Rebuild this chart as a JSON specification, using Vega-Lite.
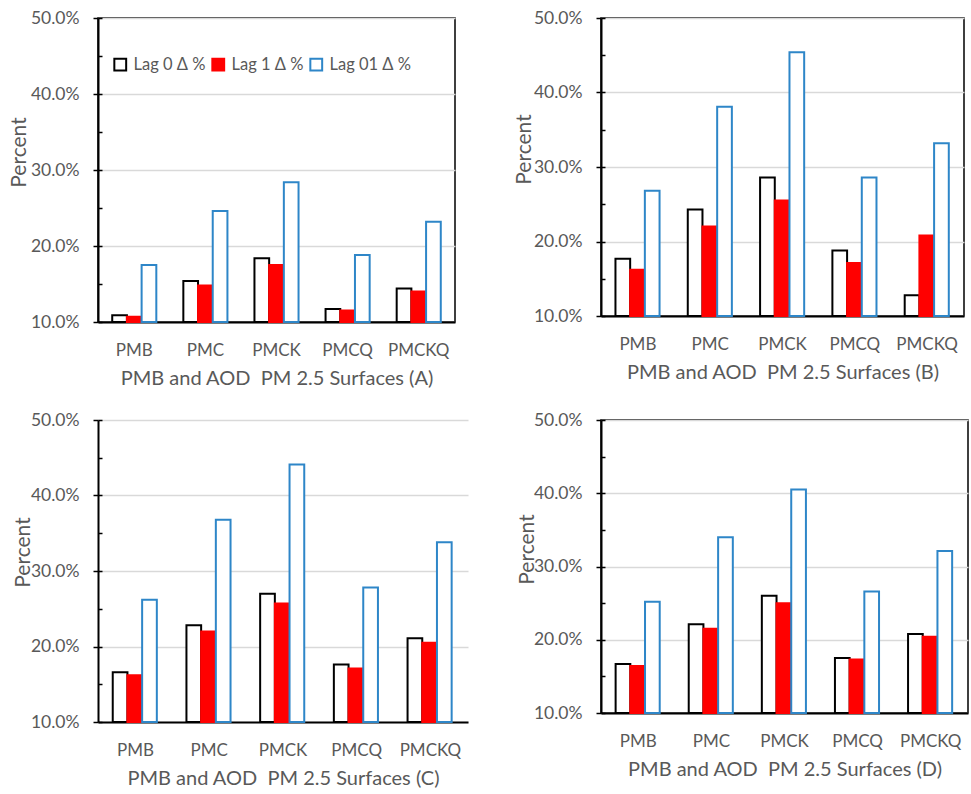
{
  "$schema": "https://vega.github.io/schema/vega-lite/v6.json",
  "background": "white",
  "padding": {"left": 7, "top": 8, "right": 1, "bottom": 2},
  "config": {
    "font": "Lato",
    "axis": {"labelColor": "#595959", "titleColor": "#595959", "titleFontWeight": "normal", "labelFontSize": 17, "titleFontSize": 20},
    "axisY": {"titleFontSize": 21, "labelFontSize": 17.5},
    "legend": {"labelColor": "#595959"}
  },
  "data": {"values": [
    {"panel": "A", "category": "PMB", "series": "Lag 0 Δ %", "value": 0.109},
    {"panel": "A", "category": "PMB", "series": "Lag 1 Δ %", "value": 0.107},
    {"panel": "A", "category": "PMB", "series": "Lag 01 Δ %", "value": 0.175},
    {"panel": "A", "category": "PMC", "series": "Lag 0 Δ %", "value": 0.154},
    {"panel": "A", "category": "PMC", "series": "Lag 1 Δ %", "value": 0.148},
    {"panel": "A", "category": "PMC", "series": "Lag 01 Δ %", "value": 0.246},
    {"panel": "A", "category": "PMCK", "series": "Lag 0 Δ %", "value": 0.184},
    {"panel": "A", "category": "PMCK", "series": "Lag 1 Δ %", "value": 0.175},
    {"panel": "A", "category": "PMCK", "series": "Lag 01 Δ %", "value": 0.284},
    {"panel": "A", "category": "PMCQ", "series": "Lag 0 Δ %", "value": 0.117},
    {"panel": "A", "category": "PMCQ", "series": "Lag 1 Δ %", "value": 0.115},
    {"panel": "A", "category": "PMCQ", "series": "Lag 01 Δ %", "value": 0.188},
    {"panel": "A", "category": "PMCKQ", "series": "Lag 0 Δ %", "value": 0.144},
    {"panel": "A", "category": "PMCKQ", "series": "Lag 1 Δ %", "value": 0.140},
    {"panel": "A", "category": "PMCKQ", "series": "Lag 01 Δ %", "value": 0.232},
    {"panel": "B", "category": "PMB", "series": "Lag 0 Δ %", "value": 0.177},
    {"panel": "B", "category": "PMB", "series": "Lag 1 Δ %", "value": 0.162},
    {"panel": "B", "category": "PMB", "series": "Lag 01 Δ %", "value": 0.268},
    {"panel": "B", "category": "PMC", "series": "Lag 0 Δ %", "value": 0.243},
    {"panel": "B", "category": "PMC", "series": "Lag 1 Δ %", "value": 0.220},
    {"panel": "B", "category": "PMC", "series": "Lag 01 Δ %", "value": 0.381},
    {"panel": "B", "category": "PMCK", "series": "Lag 0 Δ %", "value": 0.286},
    {"panel": "B", "category": "PMCK", "series": "Lag 1 Δ %", "value": 0.255},
    {"panel": "B", "category": "PMCK", "series": "Lag 01 Δ %", "value": 0.454},
    {"panel": "B", "category": "PMCQ", "series": "Lag 0 Δ %", "value": 0.188},
    {"panel": "B", "category": "PMCQ", "series": "Lag 1 Δ %", "value": 0.171},
    {"panel": "B", "category": "PMCQ", "series": "Lag 01 Δ %", "value": 0.286},
    {"panel": "B", "category": "PMCKQ", "series": "Lag 0 Δ %", "value": 0.128},
    {"panel": "B", "category": "PMCKQ", "series": "Lag 1 Δ %", "value": 0.208},
    {"panel": "B", "category": "PMCKQ", "series": "Lag 01 Δ %", "value": 0.332},
    {"panel": "C", "category": "PMB", "series": "Lag 0 Δ %", "value": 0.166},
    {"panel": "C", "category": "PMB", "series": "Lag 1 Δ %", "value": 0.162},
    {"panel": "C", "category": "PMB", "series": "Lag 01 Δ %", "value": 0.262},
    {"panel": "C", "category": "PMC", "series": "Lag 0 Δ %", "value": 0.228},
    {"panel": "C", "category": "PMC", "series": "Lag 1 Δ %", "value": 0.220},
    {"panel": "C", "category": "PMC", "series": "Lag 01 Δ %", "value": 0.368},
    {"panel": "C", "category": "PMCK", "series": "Lag 0 Δ %", "value": 0.270},
    {"panel": "C", "category": "PMCK", "series": "Lag 1 Δ %", "value": 0.257},
    {"panel": "C", "category": "PMCK", "series": "Lag 01 Δ %", "value": 0.441},
    {"panel": "C", "category": "PMCQ", "series": "Lag 0 Δ %", "value": 0.176},
    {"panel": "C", "category": "PMCQ", "series": "Lag 1 Δ %", "value": 0.171},
    {"panel": "C", "category": "PMCQ", "series": "Lag 01 Δ %", "value": 0.278},
    {"panel": "C", "category": "PMCKQ", "series": "Lag 0 Δ %", "value": 0.211},
    {"panel": "C", "category": "PMCKQ", "series": "Lag 1 Δ %", "value": 0.205},
    {"panel": "C", "category": "PMCKQ", "series": "Lag 01 Δ %", "value": 0.338},
    {"panel": "D", "category": "PMB", "series": "Lag 0 Δ %", "value": 0.167},
    {"panel": "D", "category": "PMB", "series": "Lag 1 Δ %", "value": 0.164},
    {"panel": "D", "category": "PMB", "series": "Lag 01 Δ %", "value": 0.252},
    {"panel": "D", "category": "PMC", "series": "Lag 0 Δ %", "value": 0.221},
    {"panel": "D", "category": "PMC", "series": "Lag 1 Δ %", "value": 0.215},
    {"panel": "D", "category": "PMC", "series": "Lag 01 Δ %", "value": 0.340},
    {"panel": "D", "category": "PMCK", "series": "Lag 0 Δ %", "value": 0.260},
    {"panel": "D", "category": "PMCK", "series": "Lag 1 Δ %", "value": 0.250},
    {"panel": "D", "category": "PMCK", "series": "Lag 01 Δ %", "value": 0.405},
    {"panel": "D", "category": "PMCQ", "series": "Lag 0 Δ %", "value": 0.175},
    {"panel": "D", "category": "PMCQ", "series": "Lag 1 Δ %", "value": 0.173},
    {"panel": "D", "category": "PMCQ", "series": "Lag 01 Δ %", "value": 0.266},
    {"panel": "D", "category": "PMCKQ", "series": "Lag 0 Δ %", "value": 0.208},
    {"panel": "D", "category": "PMCKQ", "series": "Lag 1 Δ %", "value": 0.204},
    {"panel": "D", "category": "PMCKQ", "series": "Lag 01 Δ %", "value": 0.321}
  ]},
  "columns": 2,
  "spacing": {"column": 44, "row": 21},
  "resolve": {"scale": {"fill": "independent", "stroke": "independent"}, "legend": {"fill": "independent", "stroke": "independent"}},
  "concat": [
    {
      "width": 357, "height": 304,
      "view": {"stroke": "black", "strokeWidth": 1.5},
      "transform": [{"filter": "datum.panel == 'A'"}],
      "layer": [
        {
          "mark": {"type": "bar", "strokeWidth": 2},
          "encoding": {
            "x": {"field": "category", "type": "nominal", "sort": ["PMB", "PMC", "PMCK", "PMCQ", "PMCKQ"], "scale": {"paddingInner": 0.38}, "title": "PMB and AOD\u00a0 PM 2.5 Surfaces (A)",
              "axis": {"labelAngle": 0, "ticks": false, "domainColor": "black", "domainWidth": 2, "labelPadding": 20, "titlePadding": 10}},
            "xOffset": {"field": "series", "sort": ["Lag 0 Δ %", "Lag 1 Δ %", "Lag 01 Δ %"]},
            "y": {"field": "value", "type": "quantitative", "scale": {"domain": [0.1, 0.5], "zero": false, "nice": false}, "title": "Percent",
              "axis": {"values": [0.1, 0.2, 0.3, 0.4, 0.5], "format": ".1%", "tickSize": 5, "tickColor": "black", "tickWidth": 1.5, "domainColor": "black", "domainWidth": 2, "labelPadding": 14, "gridColor": "#d9d9d9", "gridWidth": 1.5, "titleX": -79, "titleY": 134, "titleBaseline": "middle"}},
            "y2": {"datum": 0.1},
            "fill": {"field": "series", "sort": ["Lag 0 Δ %", "Lag 1 Δ %", "Lag 01 Δ %"], "scale": {"domain": ["Lag 0 Δ %", "Lag 1 Δ %", "Lag 01 Δ %"], "range": ["#ffffff", "#ff0000", "#ffffff"]},
              "legend": {"title": null, "orient": "none", "legendX": 14, "legendY": 38, "direction": "horizontal", "symbolType": "square", "symbolSize": 140, "symbolStrokeWidth": 2, "labelFontSize": 16.5, "labelOffset": 5, "columnPadding": 2}},
            "stroke": {"field": "series", "sort": ["Lag 0 Δ %", "Lag 1 Δ %", "Lag 01 Δ %"], "scale": {"domain": ["Lag 0 Δ %", "Lag 1 Δ %", "Lag 01 Δ %"], "range": ["#000000", "#ff0000", "#2e86c8"]},
              "legend": {"title": null, "orient": "none", "legendX": 14, "legendY": 38, "direction": "horizontal", "symbolType": "square", "symbolSize": 140, "symbolStrokeWidth": 2, "labelFontSize": 16.5, "labelOffset": 5, "columnPadding": 2}}
          }
        },
        {
          "mark": {"type": "tick", "opacity": 0},
          "encoding": {
            "y": {"field": "value", "type": "quantitative", "scale": {"domain": [0.1, 0.5], "zero": false, "nice": false},
              "axis": {"orient": "left", "values": [0.1, 0.15, 0.2, 0.25, 0.3, 0.35, 0.4, 0.45, 0.5], "labels": false, "domain": false, "grid": false, "title": null, "tickSize": -4, "tickColor": "black", "tickWidth": 1.5}}
          }
        }
      ],
      "resolve": {"axis": {"y": "independent"}}
    },
    {
      "width": 363, "height": 298,
      "view": {"stroke": "black", "strokeWidth": 1.5},
      "transform": [{"filter": "datum.panel == 'B'"}],
      "layer": [
        {
          "mark": {"type": "bar", "strokeWidth": 2},
          "encoding": {
            "x": {"field": "category", "type": "nominal", "sort": ["PMB", "PMC", "PMCK", "PMCQ", "PMCKQ"], "scale": {"paddingInner": 0.38}, "title": "PMB and AOD\u00a0 PM 2.5 Surfaces (B)",
              "axis": {"labelAngle": 0, "ticks": false, "domainColor": "black", "domainWidth": 2, "labelPadding": 20, "titlePadding": 10}},
            "xOffset": {"field": "series", "sort": ["Lag 0 Δ %", "Lag 1 Δ %", "Lag 01 Δ %"]},
            "y": {"field": "value", "type": "quantitative", "scale": {"domain": [0.1, 0.5], "zero": false, "nice": false}, "title": "Percent",
              "axis": {"values": [0.1, 0.2, 0.3, 0.4, 0.5], "format": ".1%", "tickSize": 5, "tickColor": "black", "tickWidth": 1.5, "domainColor": "black", "domainWidth": 2, "labelPadding": 14, "gridColor": "#d9d9d9", "gridWidth": 1.5, "titleX": -77, "titleY": 131, "titleBaseline": "middle"}},
            "y2": {"datum": 0.1},
            "fill": {"field": "series", "sort": ["Lag 0 Δ %", "Lag 1 Δ %", "Lag 01 Δ %"], "scale": {"domain": ["Lag 0 Δ %", "Lag 1 Δ %", "Lag 01 Δ %"], "range": ["#ffffff", "#ff0000", "#ffffff"]}, "legend": null},
            "stroke": {"field": "series", "sort": ["Lag 0 Δ %", "Lag 1 Δ %", "Lag 01 Δ %"], "scale": {"domain": ["Lag 0 Δ %", "Lag 1 Δ %", "Lag 01 Δ %"], "range": ["#000000", "#ff0000", "#2e86c8"]}, "legend": null}
          }
        },
        {
          "mark": {"type": "tick", "opacity": 0},
          "encoding": {
            "y": {"field": "value", "type": "quantitative", "scale": {"domain": [0.1, 0.5], "zero": false, "nice": false},
              "axis": {"orient": "left", "values": [0.1, 0.15, 0.2, 0.25, 0.3, 0.35, 0.4, 0.45, 0.5], "labels": false, "domain": false, "grid": false, "title": null, "tickSize": -4, "tickColor": "black", "tickWidth": 1.5}}
          }
        }
      ],
      "resolve": {"axis": {"y": "independent"}}
    },
    {
      "width": 370, "height": 302,
      "view": {"stroke": null},
      "transform": [{"filter": "datum.panel == 'C'"}],
      "layer": [
        {
          "mark": {"type": "bar", "strokeWidth": 2},
          "encoding": {
            "x": {"field": "category", "type": "nominal", "sort": ["PMB", "PMC", "PMCK", "PMCQ", "PMCKQ"], "scale": {"paddingInner": 0.38}, "title": "PMB and AOD\u00a0 PM 2.5 Surfaces (C)",
              "axis": {"labelAngle": 0, "ticks": false, "domainColor": "black", "domainWidth": 2, "labelPadding": 20, "titlePadding": 10}},
            "xOffset": {"field": "series", "sort": ["Lag 0 Δ %", "Lag 1 Δ %", "Lag 01 Δ %"]},
            "y": {"field": "value", "type": "quantitative", "scale": {"domain": [0.1, 0.5], "zero": false, "nice": false}, "title": "Percent",
              "axis": {"values": [0.1, 0.2, 0.3, 0.4, 0.5], "format": ".1%", "tickSize": 5, "tickColor": "black", "tickWidth": 1.5, "domainColor": "black", "domainWidth": 2, "labelPadding": 14, "gridColor": "#d9d9d9", "gridWidth": 1.5, "titleX": -75, "titleY": 132, "titleBaseline": "middle"}},
            "y2": {"datum": 0.1},
            "fill": {"field": "series", "sort": ["Lag 0 Δ %", "Lag 1 Δ %", "Lag 01 Δ %"], "scale": {"domain": ["Lag 0 Δ %", "Lag 1 Δ %", "Lag 01 Δ %"], "range": ["#ffffff", "#ff0000", "#ffffff"]}, "legend": null},
            "stroke": {"field": "series", "sort": ["Lag 0 Δ %", "Lag 1 Δ %", "Lag 01 Δ %"], "scale": {"domain": ["Lag 0 Δ %", "Lag 1 Δ %", "Lag 01 Δ %"], "range": ["#000000", "#ff0000", "#2e86c8"]}, "legend": null}
          }
        },
        {
          "mark": {"type": "tick", "opacity": 0},
          "encoding": {
            "y": {"field": "value", "type": "quantitative", "scale": {"domain": [0.1, 0.5], "zero": false, "nice": false},
              "axis": {"orient": "left", "values": [0.1, 0.15, 0.2, 0.25, 0.3, 0.35, 0.4, 0.45, 0.5], "labels": false, "domain": false, "grid": false, "title": null, "tickSize": -4, "tickColor": "black", "tickWidth": 1.5}}
          }
        }
      ],
      "resolve": {"axis": {"y": "independent"}}
    },
    {
      "width": 367, "height": 293,
      "view": {"stroke": "black", "strokeWidth": 1.5},
      "transform": [{"filter": "datum.panel == 'D'"}],
      "layer": [
        {
          "mark": {"type": "bar", "strokeWidth": 2},
          "encoding": {
            "x": {"field": "category", "type": "nominal", "sort": ["PMB", "PMC", "PMCK", "PMCQ", "PMCKQ"], "scale": {"paddingInner": 0.38}, "title": "PMB and AOD\u00a0 PM 2.5 Surfaces (D)",
              "axis": {"labelAngle": 0, "ticks": false, "domainColor": "black", "domainWidth": 2, "labelPadding": 20, "titlePadding": 10}},
            "xOffset": {"field": "series", "sort": ["Lag 0 Δ %", "Lag 1 Δ %", "Lag 01 Δ %"]},
            "y": {"field": "value", "type": "quantitative", "scale": {"domain": [0.1, 0.5], "zero": false, "nice": false}, "title": "Percent",
              "axis": {"values": [0.1, 0.2, 0.3, 0.4, 0.5], "format": ".1%", "tickSize": 5, "tickColor": "black", "tickWidth": 1.5, "domainColor": "black", "domainWidth": 2, "labelPadding": 14, "gridColor": "#d9d9d9", "gridWidth": 1.5, "titleX": -74, "titleY": 129, "titleBaseline": "middle"}},
            "y2": {"datum": 0.1},
            "fill": {"field": "series", "sort": ["Lag 0 Δ %", "Lag 1 Δ %", "Lag 01 Δ %"], "scale": {"domain": ["Lag 0 Δ %", "Lag 1 Δ %", "Lag 01 Δ %"], "range": ["#ffffff", "#ff0000", "#ffffff"]}, "legend": null},
            "stroke": {"field": "series", "sort": ["Lag 0 Δ %", "Lag 1 Δ %", "Lag 01 Δ %"], "scale": {"domain": ["Lag 0 Δ %", "Lag 1 Δ %", "Lag 01 Δ %"], "range": ["#000000", "#ff0000", "#2e86c8"]}, "legend": null}
          }
        },
        {
          "mark": {"type": "tick", "opacity": 0},
          "encoding": {
            "y": {"field": "value", "type": "quantitative", "scale": {"domain": [0.1, 0.5], "zero": false, "nice": false},
              "axis": {"orient": "left", "values": [0.1, 0.15, 0.2, 0.25, 0.3, 0.35, 0.4, 0.45, 0.5], "labels": false, "domain": false, "grid": false, "title": null, "tickSize": -4, "tickColor": "black", "tickWidth": 1.5}}
          }
        }
      ],
      "resolve": {"axis": {"y": "independent"}}
    }
  ]
}
